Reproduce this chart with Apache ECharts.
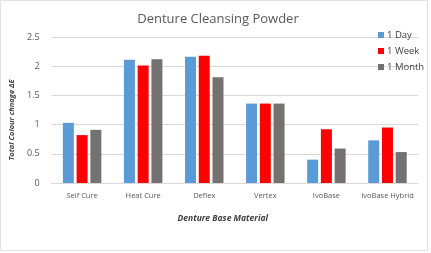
<!DOCTYPE html>
<html>
<head>
<meta charset="utf-8">
<script src="https://cdn.jsdelivr.net/npm/echarts@6/dist/echarts.min.js"></script>
<style>
  html, body { margin: 0; padding: 0; background: #fff; }
  #main { width: 431px; height: 253px; }
</style>
</head>
<body>
<div id="main"></div>
<script>
var materials = ['Self Cure', 'Heat Cure', 'Deflex', 'Vertex', 'IvoBase', 'IvoBase Hybrid'];
var oneDay = [1.03, 2.11, 2.16, 1.36, 0.40, 0.73];
var oneWeek = [0.82, 2.01, 2.18, 1.36, 0.92, 0.95];
var oneMonth = [0.91, 2.12, 1.81, 1.36, 0.59, 0.53];

var myChart = echarts.init(document.getElementById('main'));

var font = 'Open Sans, Lato, sans-serif';
var textGrey = '#595959';

function bar(name, values, color) {
    return {
        name: name,
        type: 'bar',
        data: values,
        barWidth: 11,
        barGap: '25%',
        itemStyle: { color: color },
        animation: false
    };
}

var option = {
    animation: false,
    graphic: [{
        type: 'rect',
        shape: { x: 0.5, y: 0.5, width: 427, height: 250 },
        style: { fill: 'none', stroke: '#e3e3e3', lineWidth: 1 }
    }],
    title: {
        text: 'Denture Cleansing Powder',
        left: 213,
        textAlign: 'center',
        top: 8,
        textStyle: { fontFamily: font, fontSize: 13, fontWeight: 'normal', color: textGrey }
    },
    legend: {
        orient: 'vertical',
        left: 373,
        top: 25,
        itemWidth: 6,
        itemHeight: 6,
        itemGap: 6,
        icon: 'rect',
        textStyle: { fontFamily: font, fontSize: 9.5, color: '#404040', padding: [0, 0, 0, -2] },
        data: ['1 Day', '1 Week', '1 Month']
    },
    grid: {
        left: 47,
        right: 13,
        top: 37,
        bottom: 70
    },
    xAxis: {
        type: 'category',
        data: materials,
        name: 'Denture Base Material',
        nameLocation: 'middle',
        nameGap: 31,
        nameTextStyle: { fontFamily: font, fontSize: 8.5, fontStyle: 'italic', fontWeight: 'bold', color: '#404040', padding: [0, 24, 0, 0] },
        axisLine: { lineStyle: { color: '#d9d9d9' } },
        axisTick: { show: false },
        axisLabel: { fontFamily: font, fontSize: 7.5, color: textGrey, margin: 9, interval: 0 }
    },
    yAxis: {
        type: 'value',
        min: 0,
        max: 2.5,
        interval: 0.5,
        name: 'Total Colour chnage ΔE',
        nameLocation: 'middle',
        nameGap: 30,
        nameTextStyle: { fontFamily: font, fontSize: 7.5, fontStyle: 'italic', fontWeight: 'bold', color: '#404040', padding: [0, 20, 0, 0] },
        axisLine: { show: false },
        axisTick: { show: false },
        axisLabel: { fontFamily: font, fontSize: 9, color: textGrey, margin: 12 },
        splitLine: { lineStyle: { color: '#d9d9d9' } }
    },
    series: [
        bar('1 Day', oneDay, '#5b9bd5'),
        bar('1 Week', oneWeek, '#ff0000'),
        bar('1 Month', oneMonth, '#767171')
    ]
};

myChart.setOption(option);
</script>
</body>
</html>
